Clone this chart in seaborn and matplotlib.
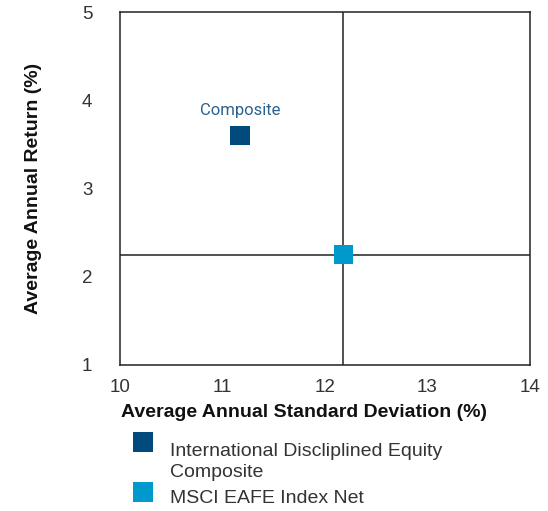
import matplotlib
matplotlib.use("Agg")
import matplotlib.pyplot as plt
from matplotlib.lines import Line2D
import numpy as np
import seaborn as sns
import pandas as pd

# values
names = ["International Discliplined Equity\nComposite", "MSCI EAFE Index Net"]
std_dev = [11.17, 12.18]
returns = [3.60, 2.25]
colors = ["#004a7c", "#0099cc"]

df = pd.DataFrame({"name": names, "std": std_dev, "ret": returns})

sns.set_theme(style="white")
plt.rcParams["font.family"] = ["Liberation Sans", "DejaVu Sans"]

fig = plt.figure(figsize=(5.48, 5.11), dpi=100)
ax = fig.add_axes([0.219, 0.286, 0.748, 0.69])

# crosshair through the benchmark
ax.axvline(std_dev[1], color="#222222", lw=1.1, zorder=1)
ax.axhline(returns[1], color="#222222", lw=1.1, zorder=1)

sns.scatterplot(data=df, x="std", y="ret", hue="name", palette=colors,
                marker="s", s=200, edgecolor="none", ax=ax, zorder=3)

ax.text(std_dev[0], returns[0] + 0.2, "Composite", ha="center", va="bottom",
        fontsize=12, color="#2b628f", family=["Roboto", "DejaVu Sans"])

ax.set_xlim(10, 14)
ax.set_ylim(1, 5)
ax.set_xticks([10, 11, 12, 13, 14])
ax.set_yticks([1, 2, 3, 4, 5])
ax.tick_params(labelsize=13.5, colors="#333333", length=0)
ax.tick_params(axis="x", pad=10)
ax.tick_params(axis="y", pad=20)
for sp in ax.spines.values():
    sp.set_color("#222222")
    sp.set_linewidth(1.1)

ax.set_xlabel("Average Annual Standard Deviation (%)", fontsize=14,
              fontweight="bold", color="#111111")
ax.set_ylabel("Average Annual Return (%)", fontsize=14,
              fontweight="bold", color="#111111")
ax.xaxis.set_label_coords(0.449, -0.112)
ax.yaxis.set_label_coords(-0.19, 0.5)

handles, labels = ax.get_legend_handles_labels()
if ax.get_legend():
    ax.get_legend().remove()
leg = fig.legend(handles, labels, loc="upper left",
                 bbox_to_anchor=(0.236, 1 - 443 / 511),
                 frameon=False, fontsize=14, labelcolor="#333333",
                 markerscale=1.0, handlelength=1.4, handletextpad=0.7,
                 labelspacing=0.45, borderpad=0, borderaxespad=0)
for t in leg.get_texts():
    t.set_linespacing(1.3)

# markers sit a little above their label lines
for i, h in enumerate(leg.legend_handles):
    dy = 14 if i == 0 else 3
    if isinstance(h, Line2D):
        h.set_ydata(np.asarray(h.get_ydata(), dtype=float) + dy)
    else:
        offs = np.asarray(h.get_offsets(), dtype=float)
        offs[:, 1] += dy
        h.set_offsets(offs)

fig.savefig("out.png", dpi=100)
